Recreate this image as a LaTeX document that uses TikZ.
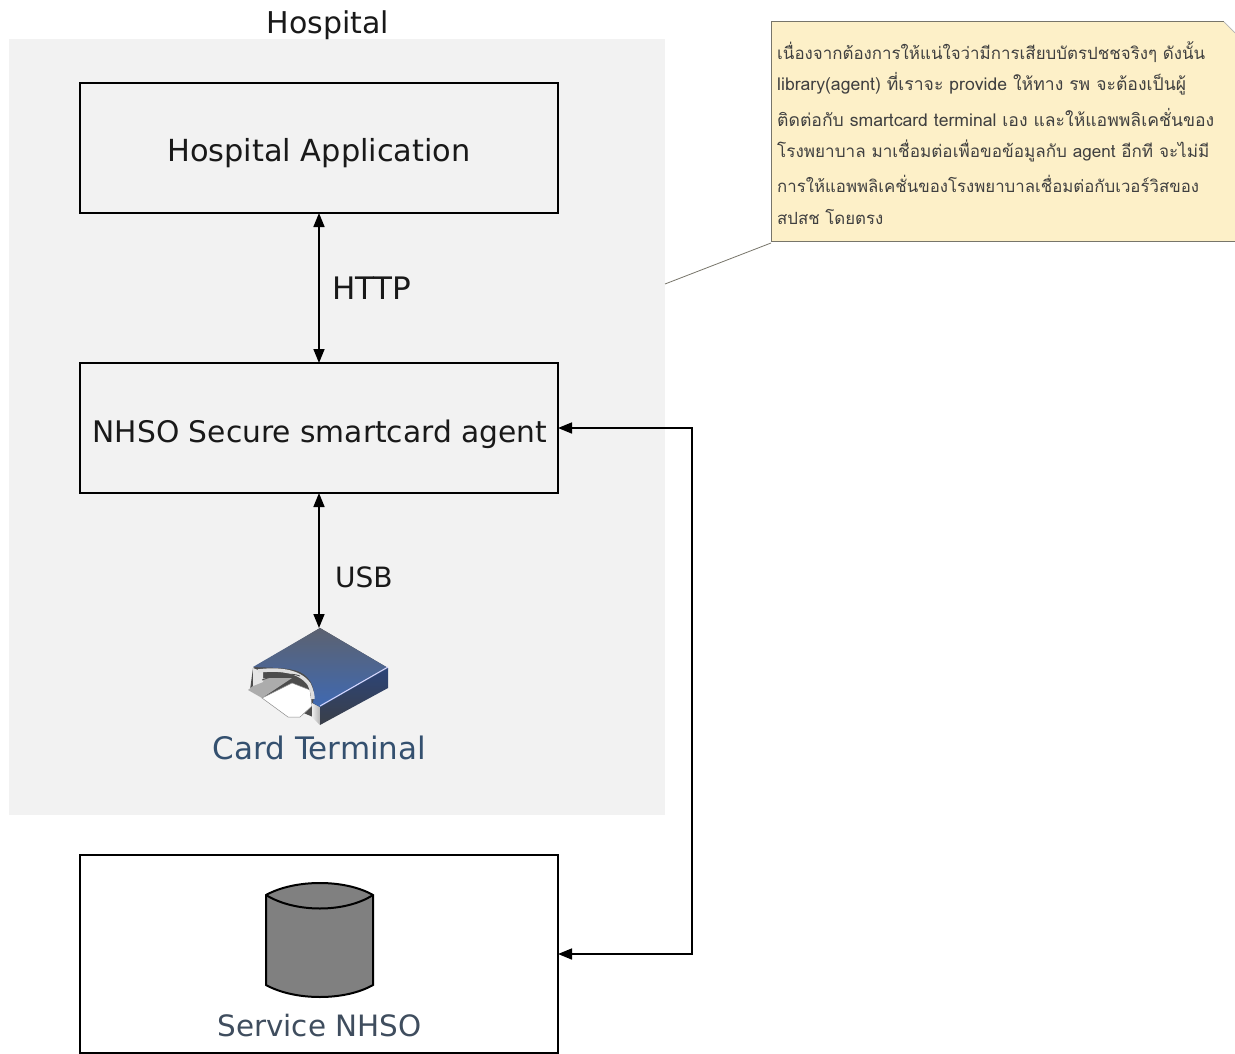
\documentclass[tikz,border=0pt]{standalone}
\usepackage{fontspec}
\setmainfont{DejaVu Sans}
\newfontfamily\thaifont[Script=Thai]{Loma}
\usetikzlibrary{arrows.meta}
\definecolor{regionfill}{HTML}{F2F2F2}
\definecolor{notefill}{HTML}{FDF0C8}
\definecolor{noteedge}{HTML}{77756A}
\definecolor{labelblue}{HTML}{34506F}
\definecolor{labelslate}{HTML}{3F4D5E}
\definecolor{cylfill}{HTML}{808080}
\definecolor{termtopa}{HTML}{5C6270}
\definecolor{termtopb}{HTML}{3F69B2}
\definecolor{termsidea}{HTML}{2C4478}
\definecolor{termsideb}{HTML}{3A3F48}
\tikzset{
  x=1pt,y=-1pt,
  mainbox/.style={draw=black,line width=2pt,fill=none,minimum width=478pt,anchor=north west,inner sep=0pt,outer sep=0pt},
  boxlabel/.style={inner sep=0pt,text=black!90,anchor=base},
  edgelabel/.style={inner sep=0pt,text=black!90,anchor=base west},
  iconlabel/.style={inner sep=0pt,anchor=base},
  link/.style={draw=black,line width=1.6pt,{Stealth[length=14pt,width=11pt,inset=0pt]}-{Stealth[length=14pt,width=11pt,inset=0pt]}},
  notetext/.style={anchor=west,inner sep=0pt,text=black!75},
}
\begin{document}
\begin{tikzpicture}
\useasboundingbox (0,0) rectangle (1235,1054);
\fill[white] (0,0) rectangle (1235,1054);
% hospital region
\node[draw=none,fill=regionfill,minimum width=656pt,minimum height=776pt,anchor=north west,inner sep=0pt,outer sep=0pt] (region) at (9,39) {};
\node[font=\fontsize{30}{36}\selectfont,inner sep=0pt,anchor=base,text=black!90] (regiontitle) at (328,34) {Hospital};
% boxes
\node[mainbox,minimum height=130pt] (app) at (80,83) {};
\node[boxlabel,font=\fontsize{30.4}{36}\selectfont] (applabel) at (319,162) {Hospital Application};
\node[mainbox,minimum height=130pt] (agent) at (80,363) {};
\node[boxlabel,font=\fontsize{29.7}{36}\selectfont] (agentlabel) at (320,442) {NHSO Secure smartcard agent};
\node[mainbox,minimum height=198pt] (service) at (80,855) {};
\node[iconlabel,text=labelslate,font=\fontsize{29.4}{36}\selectfont] (servicelabel) at (319.5,1036) {Service NHSO};
% card terminal icon
\coordinate (termtop) at (319,628);
\fill[black!70] (253,668) -- (320,628) -- (388,668) -- (320,720) -- (250,690) -- cycle;
\fill[gray!65] (248,690) -- (263,678) -- (292,678) -- (262,698) -- cycle;
\fill[gray!20] (253,668) -- (263,672) -- (263,682) -- (253,686) -- cycle;
\fill[white,draw=black!45,line width=0.5pt] (262,698) -- (292,683) -- (310,690) -- (312,706) -- (300,717) -- (288,717) -- cycle;
\shade[left color=gray!15,right color=gray!60] (312,703) -- (320,707) -- (320,725) -- (312,717) -- cycle;
\shade[top color=termsidea,bottom color=termsideb] (320,707) -- (388,668) -- (388,688) -- (320,725) -- cycle;
\shade[top color=termtopa,bottom color=termtopb] (320,628) -- (388,668) -- (320,707) -- (313,703) .. controls (316,690) and (312,678) .. (300,672) .. controls (288,667) and (270,668) .. (253,667) -- cycle;
\draw[blue!15!white,line width=1pt] (320,706) -- (388,667);
\draw[gray!25,line width=3.5pt] (258,671) .. controls (275,669) and (298,669) .. (309,684) .. controls (312,690) and (313,696) .. (313,699);
\draw[black!70,line width=0.8pt] (262,680) .. controls (275,675) and (290,672) .. (300,676);
\node[iconlabel,text=labelblue,font=\fontsize{31}{36}\selectfont] (termlabel) at (319.5,759) {Card Terminal};
% database
\fill[cylfill] (266,895) .. controls (295,879) and (345,879) .. (373,895) -- (373,985) .. controls (345,1001) and (295,1001) .. (266,985) -- cycle;
\draw[black,line width=2pt] (266,895) .. controls (295,879) and (345,879) .. (373,895) -- (373,985) .. controls (345,1001) and (295,1001) .. (266,985) -- cycle;
\draw[black,line width=2pt] (266,895) .. controls (295,913) and (345,913) .. (373,895);
% connectors
\draw[link] (app.south) -- (agent.north);
\node[edgelabel,font=\fontsize{31}{36}\selectfont] (httplabel) at (332,299) {HTTP};
\draw[link] (agent.south) -- (termtop);
\node[edgelabel,font=\fontsize{28}{34}\selectfont] (usblabel) at (335,587) {USB};
\coordinate (elbowa) at (692,428);
\coordinate (elbowb) at (692,954);
\draw[link] (agent.east) -- (elbowa) -- (elbowb) -- (service.east);
% note
\coordinate (callout) at (665,284);
\fill[notefill] (771,22) -- (1224,22) -- (1235,33) -- (1235,241) -- (771,241) -- cycle;
\draw[noteedge,line width=1pt] (1224,22) -- (771,22) -- (771,241) -- (1235,241);
\draw[black!30,line width=0.7pt] (1224,22) -- (1235,33);
\draw[noteedge,line width=0.8pt] (callout) -- (771,243);
\node[notetext,font=\thaifont\fontsize{16.9}{20}\selectfont] (n1) at (777,52) {เนื่องจากต้องการให้แน่ใจว่ามีการเสียบบัตรปชชจริงๆ ดังนั้น};
\node[notetext,font=\thaifont\fontsize{17.6}{20}\selectfont] (n2) at (777,84) {library(agent) ที่เราจะ provide ให้ทาง รพ จะต้องเป็นผู้};
\node[notetext,font=\thaifont\fontsize{17.6}{20}\selectfont] (n3) at (777,117) {ติดต่อกับ smartcard terminal เอง และให้แอพพลิเคชั่นของ};
\node[notetext,font=\thaifont\fontsize{17.1}{20}\selectfont] (n4) at (777,151) {โรงพยาบาล มาเชื่อมต่อเพื่อขอข้อมูลกับ agent อีกที จะไม่มี};
\node[notetext,font=\thaifont\fontsize{16.8}{20}\selectfont] (n5) at (777,184) {การให้แอพพลิเคชั่นของโรงพยาบาลเชื่อมต่อกับเวอร์วิสของ};
\node[notetext,font=\thaifont\fontsize{16.8}{20}\selectfont] (n6) at (777,217) {สปสช โดยตรง};
\end{tikzpicture}
\end{document}
